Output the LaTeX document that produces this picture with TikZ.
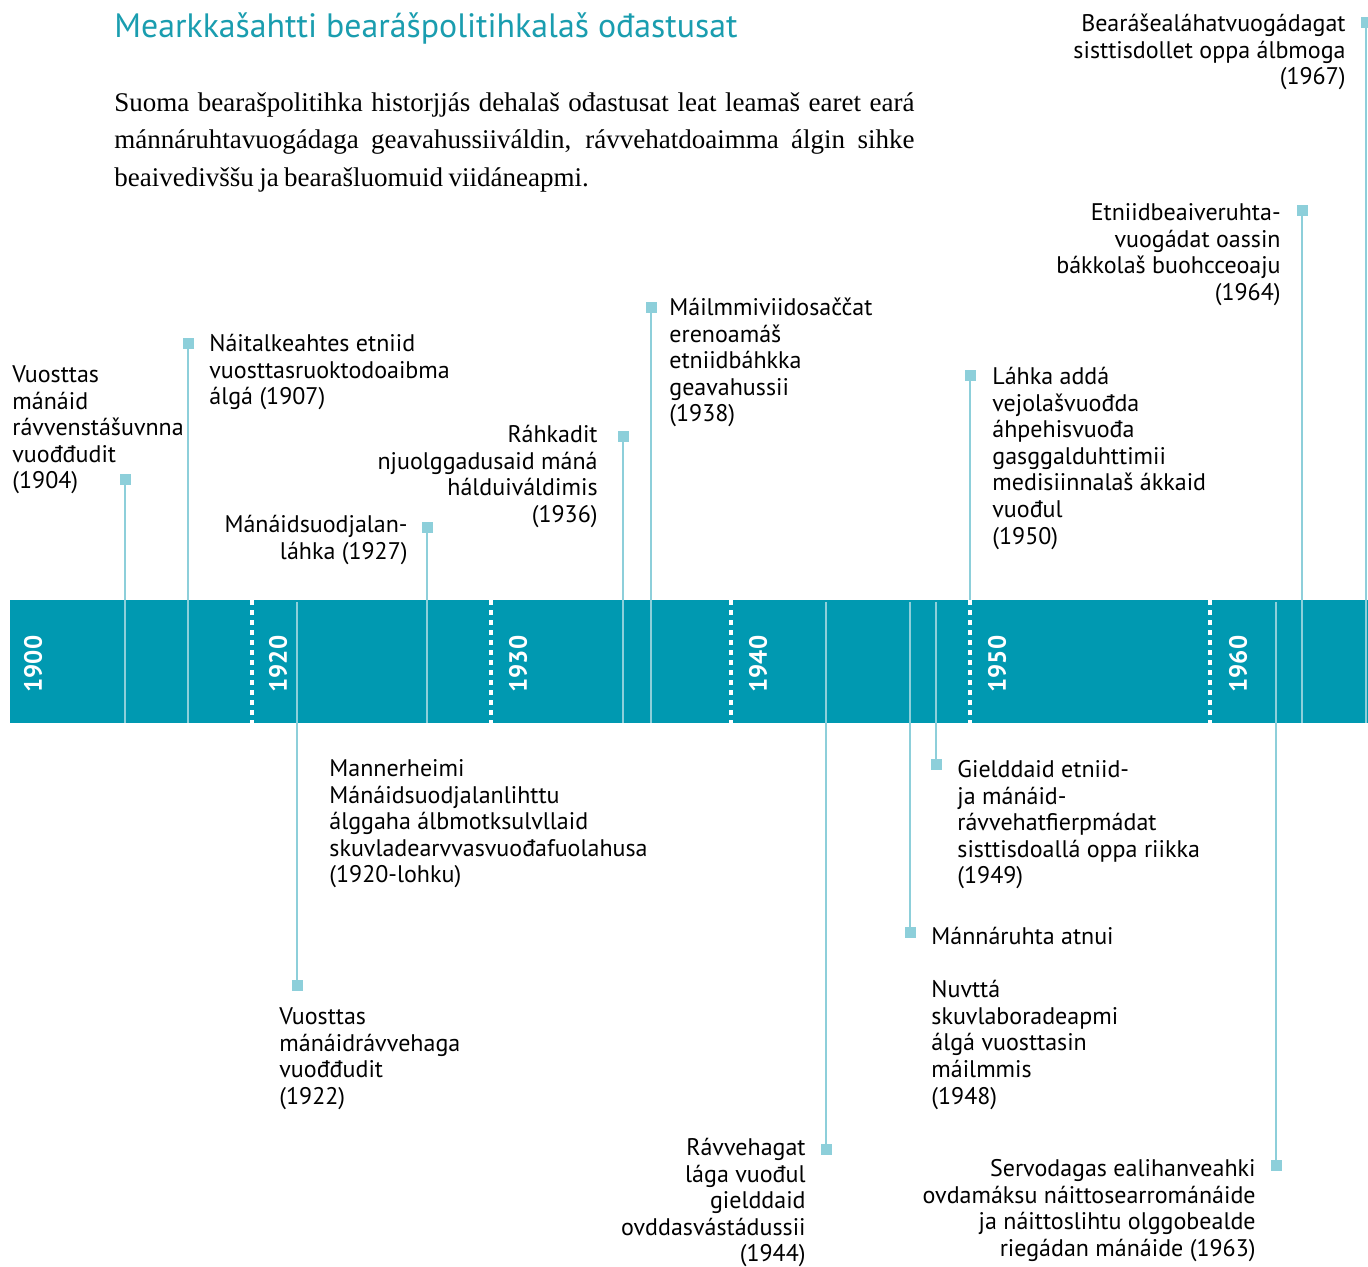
\documentclass[tikz,border=0pt]{standalone}
\usepackage{fontspec}
\setmainfont[WordSpace=0.8]{Liberation Serif}
\newfontfamily\gill{PT Sans}
\definecolor{tlband}{HTML}{0099B1}
\definecolor{tltitle}{HTML}{1A9DAF}
\definecolor{tlline}{HTML}{8DCFDA}

\begin{document}
\begin{tikzpicture}[x=0.5pt,y=-0.5pt,line cap=butt,
	band/.style={fill=tlband,draw=none},
	decade/.style={white,line width=2pt,dash pattern=on 2.6pt off 2.4pt},
	yearlbl/.style={rotate=90,text=white,inner sep=0,font=\gill\bfseries\fontsize{12.5}{14}\selectfont},
	stem/.style={draw=tlline,line width=1.35pt},
	sqmark/.style={fill=tlline,minimum size=5.5pt,inner sep=0},
	evl/.style={anchor=north west,align=left,inner sep=0,font=\gill\fontsize{12}{13.3}\selectfont},
	evr/.style={anchor=north east,align=right,inner sep=0,font=\gill\fontsize{12}{13.3}\selectfont}]
	\useasboundingbox (0,0) rectangle (1368,1266);

	% heading and intro
	\node[anchor=base west,inner sep=0,text=tltitle,font=\gill\fontsize{16.9}{20}\selectfont] (title) at (114,37) {Mearkkašahtti bearášpolitihkalaš ođastusat};
	\node[anchor=north west,inner sep=0,text width=400pt,align=justify,font=\fontsize{13.5}{18.75}\selectfont] (intro) at (114,84.7)
		{\strut Suoma bearašpolitihka historjjás dehalaš ođastusat leat leamaš earet eará\linebreak mánnáruhtavuogádaga geavahussiiváldin, rávvehatdoaimma álgin sihke\linebreak beaivedivššu ja bearašluomuid viidáneapmi.};

	% the band
	\fill[band] (10,600) rectangle (1368,723);

	% stems up
	\node[sqmark] (s1904) at (125,479) {};
	\node[sqmark] (s1907) at (188,343) {};
	\node[sqmark] (s1927) at (427,527) {};
	\node[sqmark] (s1936) at (623,436) {};
	\node[sqmark] (s1938) at (651,307) {};
	\node[sqmark] (s1950) at (970,375) {};
	\node[sqmark] (s1964) at (1302,210) {};
	\node[sqmark] (s1967) at (1366,22) {};
	\coordinate (b1904) at (125,723);
	\coordinate (b1907) at (188,723);
	\coordinate (b1927) at (427,723);
	\coordinate (b1936) at (623,723);
	\coordinate (b1938) at (651,723);
	\coordinate (b1950) at (970,600);
	\coordinate (b1964) at (1302,723);
	\coordinate (b1967) at (1366,723);
	\draw[stem] (s1904.center) -- (b1904);
	\draw[stem] (s1907.center) -- (b1907);
	\draw[stem] (s1927.center) -- (b1927);
	\draw[stem] (s1936.center) -- (b1936);
	\draw[stem] (s1938.center) -- (b1938);
	\draw[stem] (s1950.center) -- (b1950);
	\draw[stem] (s1964.center) -- (b1964);
	\draw[stem] (s1967.center) -- (b1967);

	% stems down
	\node[sqmark] (s1922) at (297,985) {};
	\node[sqmark] (s1944) at (826,1149) {};
	\node[sqmark] (s1948) at (910,932) {};
	\node[sqmark] (s1949) at (936,764) {};
	\node[sqmark] (s1963) at (1276,1165) {};
	\coordinate (a1922) at (297,602);
	\coordinate (a1944) at (826,602);
	\coordinate (a1948) at (910,602);
	\coordinate (a1949) at (936,602);
	\coordinate (a1963) at (1276,602);
	\draw[stem] (a1922) -- (s1922.center);
	\draw[stem] (a1944) -- (s1944.center);
	\draw[stem] (a1948) -- (s1948.center);
	\draw[stem] (a1949) -- (s1949.center);
	\draw[stem] (a1963) -- (s1963.center);
	\node[sqmark] at (s1922) {};
	\node[sqmark] at (s1944) {};
	\node[sqmark] at (s1948) {};
	\node[sqmark] at (s1949) {};
	\node[sqmark] at (s1963) {};
	\node[sqmark] at (s1904) {};
	\node[sqmark] at (s1907) {};
	\node[sqmark] at (s1927) {};
	\node[sqmark] at (s1936) {};
	\node[sqmark] at (s1938) {};
	\node[sqmark] at (s1950) {};
	\node[sqmark] at (s1964) {};
	\node[sqmark] at (s1967) {};

	% decades
	\draw[decade] (252,600) -- (252,723);
	\draw[decade] (491,600) -- (491,723);
	\draw[decade] (731,600) -- (731,723);
	\draw[decade] (970,600) -- (970,723);
	\draw[decade] (1210,600) -- (1210,723);
	\node[yearlbl] (y1900) at (33,664) {1900};
	\node[yearlbl] (y1920) at (278,664) {1920};
	\node[yearlbl] (y1930) at (518,664) {1930};
	\node[yearlbl] (y1940) at (758,664) {1940};
	\node[yearlbl] (y1950) at (997,664) {1950};
	\node[yearlbl] (y1960) at (1238,664) {1960};

	% texts above the band
	\node[evl] (t1904) at (12,363.4) {\strut Vuosttas\\mánáid\\rávvenstášuvnna\\vuođđudit\\(1904)};
	\node[evl] (t1907) at (209,332.4) {\strut Náitalkeahtes etniid\\vuosttasruoktodoaibma\\álgá (1907)};
	\node[evr] (t1927) at (408,513.4) {\strut Mánáidsuodjalan-\\láhka (1927)};
	\node[evr] (t1936) at (598,423.4) {\strut Ráhkadit\\njuolggadusaid máná\\hálduiváldimis\\(1936)};
	\node[evl] (t1938) at (669,296.4) {\strut Máilmmiviidosaččat\\erenoamáš\\etniidbáhkka\\geavahussii\\(1938)};
	\node[evl] (t1950) at (992,365.4) {\strut Láhka addá\\vejolašvuođda\\áhpehisvuođa\\gasggalduhttimii\\medisiinnalaš ákkaid\\vuođul\\(1950)};
	\node[evr] (t1964) at (1281,201.4) {\strut Etniidbeaiveruhta-\\vuogádat oassin\\bákkolaš buohcceoaju\\(1964)};
	\node[evr] (t1967) at (1346,12.4) {\strut Bearášealáhatvuogádagat\\sisttisdollet oppa álbmoga\\(1967)};

	% texts below the band
	\node[evl] (t1920s) at (329,757.4) {\strut Mannerheimi\\Mánáidsuodjalanlihttu\\álggaha álbmotksulvllaid\\skuvladearvvasvuođafuolahusa\\(1920-lohku)};
	\node[evl] (t1922) at (279,1005.4) {\strut Vuosttas\\mánáidrávvehaga\\vuođđudit\\(1922)};
	\node[evr] (t1944) at (806,1136.4) {\strut Rávvehagat\\lága vuođul\\gielddaid\\ovddasvástádussii\\(1944)};
	\node[evl] (t1948) at (931,925.4) {\strut Mánnáruhta atnui\\ \\Nuvttá\\skuvlaboradeapmi\\álgá vuosttasin\\máilmmis\\(1948)};
	\node[evl] (t1949) at (957,758.4) {\strut Gielddaid etniid-\\ja mánáid-\\rávvehatfierpmádat\\sisttisdoallá oppa riikka\\(1949)};
	\node[evr] (t1963) at (1256,1157.4) {\strut Servodagas ealihanveahki\\ovdamáksu náittosearrománáide\\ja náittoslihtu olggobealde\\riegádan mánáide (1963)};
\end{tikzpicture}
\end{document}
